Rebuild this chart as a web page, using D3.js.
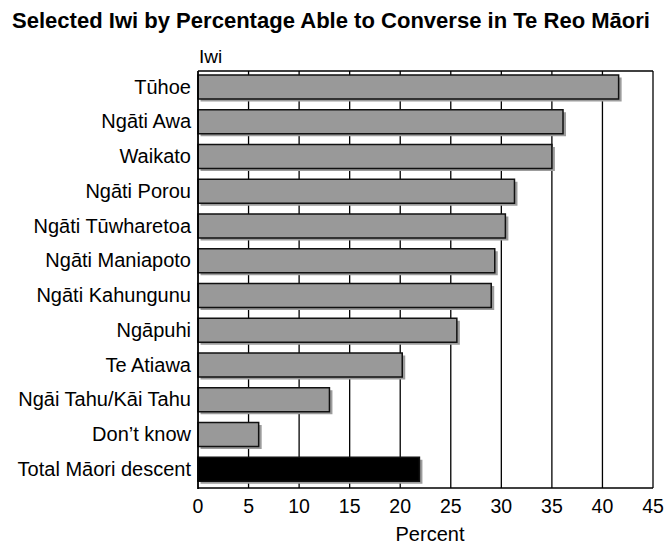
<!DOCTYPE html>
<html>
<head>
<meta charset="utf-8">
<script src="https://cdn.jsdelivr.net/npm/d3@7"></script>
<style>
  body { margin: 0; background: #fff; }
  text { font-family: "Liberation Sans", Arial, sans-serif; fill: #000; }
</style>
</head>
<body>
<div id="chart"></div>
<script>
// data
var iwi = ["Tūhoe", "Ngāti Awa", "Waikato", "Ngāti Porou", "Ngāti Tūwharetoa",
           "Ngāti Maniapoto", "Ngāti Kahungunu", "Ngāpuhi", "Te Atiawa",
           "Ngāi Tahu/Kāi Tahu", "Don’t know", "Total Māori descent"];
var percent = [41.6, 36.1, 35.0, 31.3, 30.4, 29.35, 29.0, 25.6, 20.2, 13.0, 6.0, 21.9];
var ticks = [0, 5, 10, 15, 20, 25, 30, 35, 40, 45];

var width = 667, height = 547;
// plot area edges (don't use "top", it is window.top)
var pLeft = 198, pRight = 653, pTop = 71, pBottom = 488;

var data = iwi.map(function (d, i) { return { name: d, value: percent[i], total: i == iwi.length - 1 }; });

var svg = d3.select("#chart").append("svg")
    .attr("width", width)
    .attr("height", height);

var x = d3.scaleLinear().domain([0, 45]).range([pLeft, pRight]);
var y = d3.scaleBand().domain(iwi).range([pTop, pBottom]);

// title (condensed bold)
svg.append("text")
    .attr("x", 12).attr("y", 28)
    .attr("textLength", 638).attr("lengthAdjust", "spacingAndGlyphs")
    .style("font-size", "22.5px").style("font-weight", "bold")
    .text("Selected Iwi by Percentage Able to Converse in Te Reo Māori");

svg.append("text")
    .attr("x", 199).attr("y", 63)
    .style("font-size", "19px")
    .text("Iwi");

// gridlines
svg.selectAll(".grid")
    .data(ticks.slice(1))
  .enter().append("line")
    .attr("x1", function (d) { return x(d); })
    .attr("x2", function (d) { return x(d); })
    .attr("y1", pTop).attr("y2", pBottom)
    .attr("stroke", "#000").attr("stroke-width", 1.3);

// frame top + bottom
svg.append("line").attr("x1", pLeft).attr("x2", pRight).attr("y1", pTop).attr("y2", pTop)
    .attr("stroke", "#000").attr("stroke-width", 1.3);
svg.append("line").attr("x1", pLeft).attr("x2", pRight).attr("y1", pBottom).attr("y2", pBottom)
    .attr("stroke", "#000").attr("stroke-width", 1.5);

// bar shadows
svg.selectAll(".shadow")
    .data(data)
  .enter().append("rect")
    .attr("x", x(0) + 2.5)
    .attr("y", function (d) { return y(d.name) + 6.5; })
    .attr("width", function (d) { return x(d.value) - x(0) + 0.5; })
    .attr("height", 24)
    .attr("fill", "#9c9c9c");

// bars
svg.selectAll(".bar")
    .data(data)
  .enter().append("rect")
    .attr("x", x(0))
    .attr("y", function (d) { return y(d.name) + 4; })
    .attr("width", function (d) { return x(d.value) - x(0); })
    .attr("height", 24)
    .attr("fill", function (d) { return d.total ? "#000" : "#999999"; })
    .attr("stroke", "#111")
    .attr("stroke-width", 1.5);

// left axis line
svg.append("line").attr("x1", pLeft).attr("x2", pLeft).attr("y1", pTop).attr("y2", pBottom + 1)
    .attr("stroke", "#000").attr("stroke-width", 1.8);

// category labels
svg.selectAll(".lab")
    .data(iwi)
  .enter().append("text")
    .attr("x", pLeft - 7)
    .attr("y", function (d) { return y(d) + 22.5; })
    .attr("text-anchor", "end")
    .style("font-size", "20px")
    .text(function (d) { return d; });

// tick labels
svg.selectAll(".tick")
    .data(ticks)
  .enter().append("text")
    .attr("x", function (d) { return x(d); })
    .attr("y", 512.5)
    .attr("text-anchor", "middle")
    .style("font-size", "19.5px")
    .text(function (d) { return d; });

svg.append("text")
    .attr("x", 430).attr("y", 541)
    .attr("text-anchor", "middle")
    .style("font-size", "20px")
    .text("Percent");
</script>
</body>
</html>
